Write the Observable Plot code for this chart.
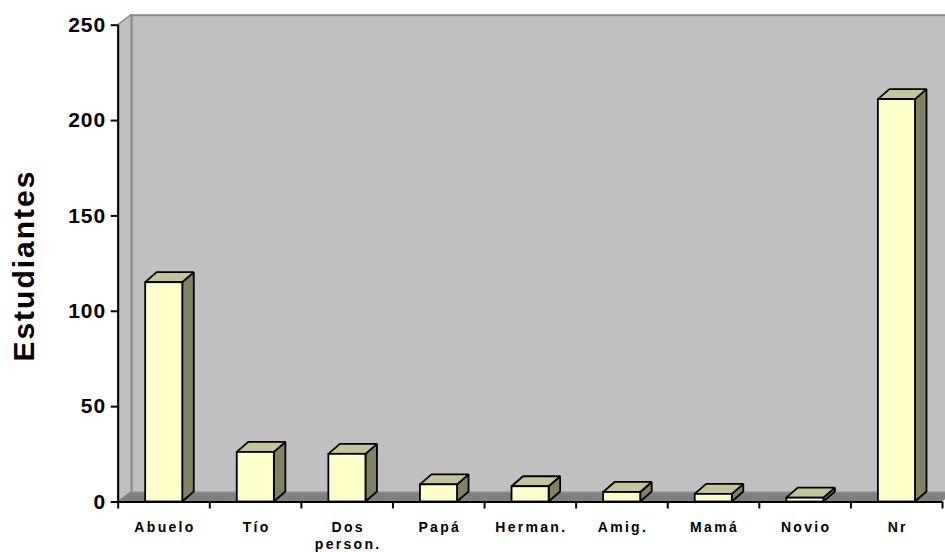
<!DOCTYPE html>
<html>
<head>
<meta charset="utf-8">
<script src="https://cdn.jsdelivr.net/npm/d3@7"></script>
<script src="https://cdn.jsdelivr.net/npm/@observablehq/plot@0.6"></script>
<style>
  body { margin: 0; background: #fff; }
  #chart svg { display: block; }
</style>
</head>
<body>
<div id="chart"></div>
<script>
// Number of students per category
const categories = ["Abuelo", "Tío", "Dos\nperson.", "Papá", "Herman.", "Amig.", "Mamá", "Novio", "Nr"];
const values = [115, 26, 25, 9, 8, 5, 4, 2, 211];
const yTicks = [0, 50, 100, 150, 200, 250];
const yTitle = "Estudiantes";

const width = 945, height = 552;
const margin = {left: 117.7, right: 3, top: 24.7, bottom: 50.5};
const yMax = yTicks[yTicks.length - 1];
const n = categories.length;

// pixels per data unit, used to turn the 3-D depth (in px) into data units
const pxX = (width - margin.left - margin.right) / n;
const pxY = (height - margin.top - margin.bottom) / yMax;
const wallDX = 13.5 / pxX, wallDY = 10 / pxY;
const barDX = 11.5 / pxX, barDY = 10 / pxY;
const barL = 0.30, barR = 0.705;

const bars = categories.map((c, i) => ({c, i, v: values[i], x1: i + barL, x2: i + barR}));

// right-hand face of each column (parallelogram)
const sideFaces = bars.flatMap(b => [
  {id: b.c, x: b.x2, lo: 0, hi: b.v},
  {id: b.c, x: b.x2 + barDX, lo: barDY, hi: b.v + barDY}
]);
// top face of each column (parallelogram)
const topFaces = bars.flatMap(b => [
  {id: b.c, x: b.x1, lo: b.v, hi: b.v},
  {id: b.c, x: b.x1 + barDX, lo: b.v, hi: b.v + barDY},
  {id: b.c, x: b.x2, lo: b.v, hi: b.v + barDY},
  {id: b.c, x: b.x2 + barDX, lo: b.v + barDY, hi: b.v + barDY}
]);
// floor and left wall of the 3-D box
const floor = [
  {x: 0, lo: 0, hi: 0},
  {x: wallDX, lo: 0, hi: wallDY},
  {x: n, lo: 0, hi: wallDY},
  {x: n + wallDX, lo: wallDY, hi: wallDY}
];
const leftWall = [
  {x: 0, lo: 0, hi: yMax},
  {x: wallDX, lo: wallDY, hi: yMax + wallDY}
];
const boundaries = d3.range(n + 1);

const plot = Plot.plot({
  width, height,
  marginLeft: margin.left, marginRight: margin.right,
  marginTop: margin.top, marginBottom: margin.bottom,
  style: {fontFamily: "Arial, 'Liberation Sans', sans-serif", background: "#fff"},
  x: {type: "linear", domain: [0, n]},
  y: {domain: [0, yMax]},
  marks: [
    // back wall
    Plot.rect([0], {x1: wallDX, x2: n + 1, y1: wallDY, y2: yMax + wallDY, fill: "#c0c0c0"}),
    Plot.ruleY([yMax + wallDY], {x1: wallDX, x2: n + 1, stroke: "#8a8a8a", strokeWidth: 2}),
    Plot.ruleX([wallDX], {y1: wallDY, y2: yMax + wallDY, stroke: "#8a8a8a", strokeWidth: 2}),
    // left wall
    Plot.area(leftWall, {x1: "x", y1: "lo", y2: "hi", fill: "#c0c0c0", stroke: "#8a8a8a", strokeWidth: 1.5}),
    // floor
    Plot.area(floor, {x1: "x", y1: "lo", y2: "hi", fill: "#808080"}),
    Plot.ruleY([wallDY], {x1: wallDX, x2: n + wallDX, stroke: "#9a9a9a", strokeWidth: 1}),
    // columns
    Plot.area(sideFaces, {x1: "x", y1: "lo", y2: "hi", z: "id", fill: "#818163", stroke: "#000", strokeWidth: 1.8, strokeLinejoin: "miter"}),
    Plot.area(topFaces, {x1: "x", y1: "lo", y2: "hi", z: "id", fill: "#c4c49c", stroke: "#000", strokeWidth: 1.8, strokeLinejoin: "miter"}),
    Plot.rect(bars, {x1: "x1", x2: "x2", y1: 0, y2: "v", fill: "#ffffcc", stroke: "#000", strokeWidth: 1.8}),
    // axes
    Plot.ruleX([0], {y1: 0, y2: yMax, stroke: "#000", strokeWidth: 2}),
    Plot.ruleY([0], {x1: 0, x2: n, stroke: "#000", strokeWidth: 2}),
    Plot.axisY(yTicks, {tickSize: 7, tickPadding: 5, fontSize: 21, fontWeight: "bold", strokeWidth: 2, label: null, color: "#000"}),
    Plot.axisX(boundaries, {tickSize: 7, tickFormat: () => "", strokeWidth: 2, label: null}),
    Plot.text(bars, {x: d => d.i + 0.5, text: "c", frameAnchor: "bottom", lineAnchor: "top", dx: 1, dy: 18, fontSize: 14, fontWeight: "bold", lineHeight: 1.2, fill: "#000"}),
    Plot.text([yTitle], {frameAnchor: "left", textAnchor: "middle", dx: -94, dy: 2, rotate: -90, fontSize: 30, fontWeight: "bold", fill: "#000"})
  ]
});

// wide, spaced lettering for the labels
const textGroups = plot.querySelectorAll('g[aria-label="text"]');
if (textGroups[0]) textGroups[0].style.letterSpacing = "2.3px";
if (textGroups[1]) textGroups[1].style.letterSpacing = "2px";
const yLabels = plot.querySelector('g[aria-label="y-axis tick label"]');
if (yLabels) yLabels.style.letterSpacing = "1px";

document.getElementById("chart").appendChild(plot);
</script>
</body>
</html>
